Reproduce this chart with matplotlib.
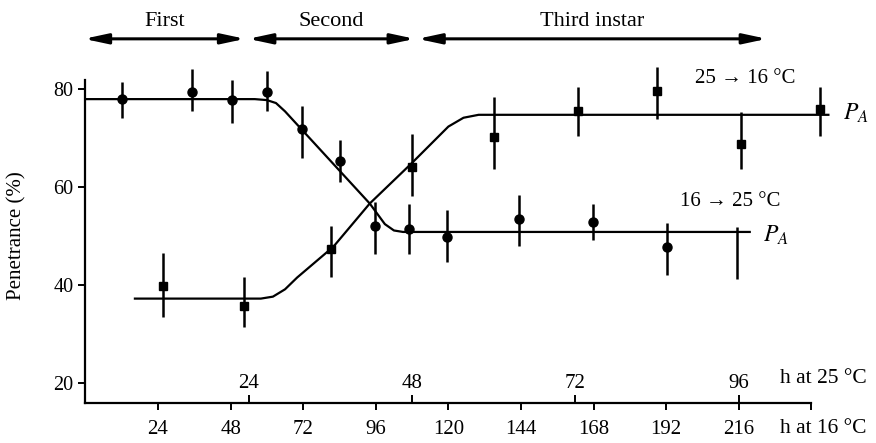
import numpy as np
import matplotlib
matplotlib.use('Agg')
import matplotlib.pyplot as plt

plt.rcParams['font.family'] = ['Liberation Serif', 'DejaVu Serif']
plt.rcParams['mathtext.fontset'] = 'stix'

# --- data (x in h at 16 C, y in % penetrance) ---
circ_x = [12.2, 35.2, 48.6, 59.9, 71.6, 84.2, 95.8, 107.1, 119.4, 143.3, 167.8, 192.2]
circ_y = [78.0, 79.5, 77.8, 79.5, 71.9, 65.4, 52.2, 51.4, 49.9, 53.5, 52.9, 47.8]
circ_lo = [74.1, 75.6, 73.2, 75.6, 65.9, 61.0, 46.5, 46.4, 44.7, 48.0, 49.2, 42.1]
circ_hi = [81.4, 84.1, 81.9, 83.8, 76.6, 69.7, 57.1, 56.6, 55.4, 58.4, 56.7, 52.7]
# error bar drawn without a marker
bar_x = [215.5]
bar_lo = [41.4]
bar_hi = [52.0]

sq_x = [25.7, 52.5, 81.2, 108.0, 135.1, 162.8, 189.0, 216.6, 243.0]
sq_y = [39.9, 35.8, 47.4, 64.2, 70.3, 75.6, 79.7, 68.8, 76.0]
sq_lo = [33.6, 31.6, 41.8, 58.2, 63.7, 70.5, 73.9, 63.7, 70.5]
sq_hi = [46.7, 41.8, 52.2, 70.9, 78.4, 80.5, 84.5, 75.4, 80.5]

# fitted curves (vertices)
circ_fit_x = [0, 56, 60, 63, 66, 94, 99, 102, 105, 220]
circ_fit_y = [78.0, 78.0, 77.8, 77.2, 75.5, 56.7, 52.5, 51.2, 50.9, 50.9]
sq_fit_x = [16, 58, 62, 66, 70, 82, 94, 108, 120, 125, 130, 246]
sq_fit_y = [37.3, 37.3, 37.7, 39.2, 41.6, 47.9, 56.7, 65.0, 72.4, 74.2, 74.8, 74.8]

# axis ticks
h16_ticks = [24, 48, 72, 96, 120, 144, 168, 192, 216]
h25_ticks = [24, 48, 72, 96]
y_ticks = [20, 40, 60, 80]

# instar stages (start, end in h at 16 C)
stages = ['First', 'Second', 'Third instar']
stage_start = [-0.5, 53.8, 109.8]
stage_end = [52.8, 108.9, 225.3]

fig = plt.figure(figsize=(8.76, 4.43), dpi=100)
ax = fig.add_axes([0.0975, 0.0903, 0.8287, 0.7302])
ax.set_xlim(0, 240)
ax.set_ylim(16, 82)

lw = 1.6
ax.plot(circ_fit_x, circ_fit_y, color='black', lw=lw, clip_on=False, solid_capstyle='butt')
ax.plot(sq_fit_x, sq_fit_y, color='black', lw=lw, clip_on=False, solid_capstyle='butt')

cy = np.array(circ_y)
ax.errorbar(circ_x, circ_y, yerr=[cy - np.array(circ_lo), np.array(circ_hi) - cy],
            fmt='o', ms=6.5, color='black', elinewidth=1.8, capsize=0, clip_on=False)
sy = np.array(sq_y)
ax.errorbar(sq_x, sq_y, yerr=[sy - np.array(sq_lo), np.array(sq_hi) - sy],
            fmt='s', ms=6, color='black', elinewidth=1.8, capsize=0, clip_on=False)
ax.vlines(bar_x, bar_lo, bar_hi, color='black', lw=1.8, clip_on=False)

# spines / ticks
for s in ['top', 'right']:
    ax.spines[s].set_visible(False)
ax.spines['left'].set_linewidth(1.6)
ax.spines['bottom'].set_linewidth(1.6)
ax.set_yticks(y_ticks)
ax.set_xticks(h16_ticks + [240])
ax.set_xticklabels([str(t) for t in h16_ticks] + [''])
ax.tick_params(axis='both', direction='out', length=5, width=1.4)
ax.tick_params(axis='y', labelsize=14.5)
ax.tick_params(axis='x', labelsize=15, pad=7)
ax.set_ylabel('Penetrance (%)', fontsize=15)
ax.yaxis.set_label_coords(-0.081, 0.516)

sec = ax.secondary_xaxis('bottom', functions=(lambda x: x / 2.25, lambda x: x * 2.25))
sec.set_xticks(h25_ticks)
sec.tick_params(direction='in', length=6, width=1.4, labelsize=15, pad=-21)
sec.spines['bottom'].set_visible(False)

ax.text(229.6, 20.9, 'h at 25 °C', fontsize=15.5, va='center', ha='left', clip_on=False)
ax.text(229.6, 10.7, 'h at 16 °C', fontsize=15.5, va='center', ha='left', clip_on=False)

# curve labels
ax.text(201.5, 82.3, '25 → 16 °C', fontsize=15, va='center', ha='left')
ax.text(196.6, 57.1, '16 → 25 °C', fontsize=15, va='center', ha='left')
ax.text(250.5, 75.0, '$P_A$', fontsize=17, va='center', ha='left')
ax.text(224.0, 50.3, '$P_A$', fontsize=17, va='center', ha='left')

# instar arrows
for name, a, b in zip(stages, stage_start, stage_end):
    ax.annotate('', xy=(a, 90.3), xytext=(b, 90.3), xycoords='data',
                arrowprops=dict(arrowstyle='<|-|>,head_length=1.4,head_width=0.3',
                                color='black', lw=2.2, shrinkA=0, shrinkB=0),
                annotation_clip=False)
    ax.text((a + b) / 2, 93.9, name, fontsize=16, ha='center', va='center', clip_on=False)

fig.savefig('out.png', dpi=100)
